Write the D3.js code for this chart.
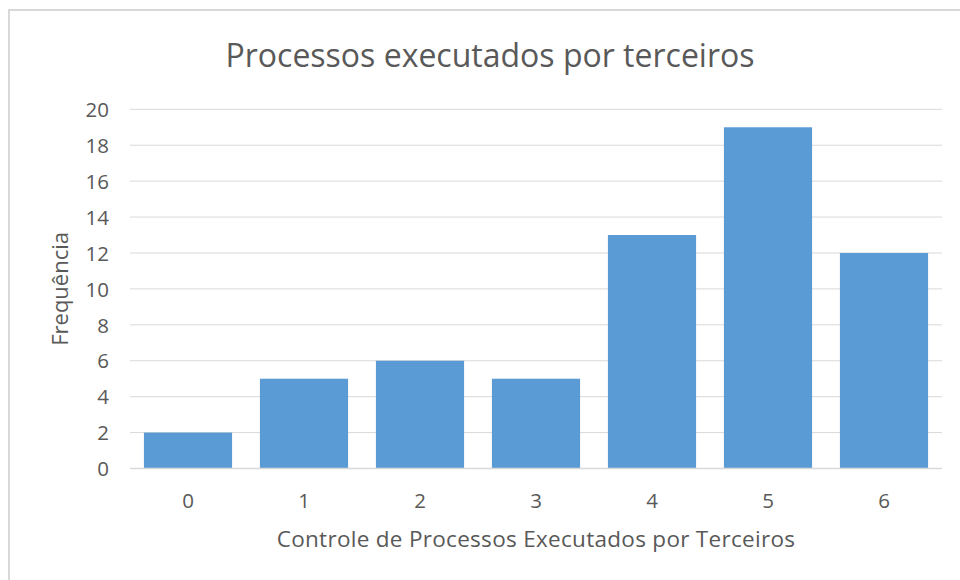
<!DOCTYPE html>
<html>
<head>
<meta charset="utf-8">
<script src="https://cdn.jsdelivr.net/npm/d3@7"></script>
<style>
  html, body { margin: 0; padding: 0; background: #fff; }
  svg { display: block; font-family: "Open Sans", "Noto Sans", sans-serif; }
</style>
</head>
<body>
<svg id="chart" width="960" height="580"></svg>
<script>
// Frequency of each control score for processes run by third parties
const categories = ["0", "1", "2", "3", "4", "5", "6"];
const values = [2, 5, 6, 5, 13, 19, 12];
const yTicks = [0, 2, 4, 6, 8, 10, 12, 14, 16, 18, 20];

const titleText = "Processos executados por terceiros";
const xTitle = "Controle de Processos Executados por Terceiros";
const yTitle = "Frequência";

const svg = d3.select("#chart");
const textColor = "#595959";

// outer chart frame
svg.append("rect")
  .attr("x", 9).attr("y", 10)
  .attr("width", 1000).attr("height", 600)
  .attr("fill", "#fff")
  .attr("stroke", "#d9d9d9")
  .attr("stroke-width", 2);

const plot = { left: 130, right: 942, top: 109.3, bottom: 468.5 };

const x = d3.scaleBand()
  .domain(categories)
  .range([plot.left, plot.right])
  .paddingInner(0.24)
  .paddingOuter(0.12);

const y = d3.scaleLinear()
  .domain([0, 20])
  .range([plot.bottom, plot.top]);

// horizontal gridlines
svg.append("g")
  .selectAll("line")
  .data(yTicks)
  .join("line")
  .attr("x1", plot.left).attr("x2", plot.right)
  .attr("y1", d => y(d)).attr("y2", d => y(d))
  .attr("stroke", "#d9d9d9")
  .attr("stroke-width", 1);

// y axis labels
const yAxis = d3.axisLeft(y).tickValues(yTicks).tickSize(0).tickPadding(0);
svg.append("g")
  .attr("transform", `translate(${plot.left - 21},0)`)
  .call(yAxis)
  .call(g => g.select(".domain").remove())
  .selectAll("text")
  .attr("font-size", 20.5)
  .attr("font-family", "\"Open Sans\", sans-serif")
  .attr("fill", textColor)
  .attr("dy", "0.35em");

// bars
svg.append("g")
  .selectAll("rect")
  .data(values)
  .join("rect")
  .attr("x", (d, i) => x(categories[i]))
  .attr("width", x.bandwidth())
  .attr("y", d => y(d))
  .attr("height", d => y(0) - y(d))
  .attr("fill", "#5b9bd5");

// baseline
svg.append("line")
  .attr("x1", plot.left).attr("x2", plot.right)
  .attr("y1", y(0)).attr("y2", y(0))
  .attr("stroke", "#d9d9d9")
  .attr("stroke-width", 1.5);

// x axis labels
const xAxis = d3.axisBottom(x).tickSize(0).tickPadding(0);
svg.append("g")
  .attr("transform", `translate(0,${plot.bottom + 24.5})`)
  .call(xAxis)
  .call(g => g.select(".domain").remove())
  .selectAll("text")
  .attr("font-size", 20.5)
  .attr("font-family", "\"Open Sans\", sans-serif")
  .attr("fill", textColor)
  .attr("dy", "0.71em");

// titles
svg.append("text")
  .attr("x", 490).attr("y", 67)
  .attr("text-anchor", "middle")
  .attr("font-size", 32)
  .attr("fill", textColor)
  .text(titleText);

svg.append("text")
  .attr("x", (plot.left + plot.right) / 2).attr("y", 547)
  .attr("text-anchor", "middle")
  .attr("font-size", 22.5)
  .attr("letter-spacing", 0.3)
  .attr("fill", textColor)
  .text(xTitle);

svg.append("text")
  .attr("transform", `translate(68,${(plot.top + plot.bottom) / 2}) rotate(-90)`)
  .attr("text-anchor", "middle")
  .attr("font-size", 22)
  .attr("fill", textColor)
  .text(yTitle);
</script>
</body>
</html>
